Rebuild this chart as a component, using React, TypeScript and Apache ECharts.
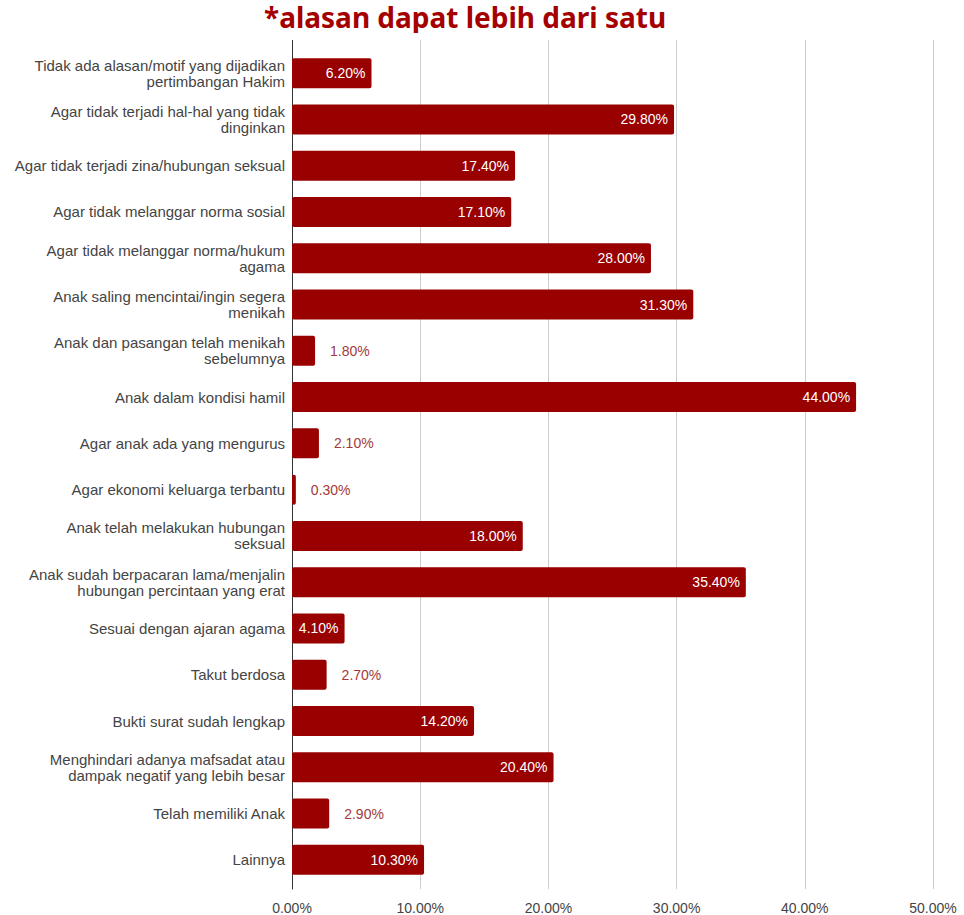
import React, { useEffect, useRef } from "react";
import * as echarts from "echarts";

const categories: string[] = [
  "Tidak ada alasan/motif yang dijadikan\npertimbangan Hakim",
  "Agar tidak terjadi hal-hal yang tidak\ndinginkan",
  "Agar tidak terjadi zina/hubungan seksual",
  "Agar tidak melanggar norma sosial",
  "Agar tidak melanggar norma/hukum\nagama",
  "Anak saling mencintai/ingin segera\nmenikah",
  "Anak dan pasangan telah menikah\nsebelumnya",
  "Anak dalam kondisi hamil",
  "Agar anak ada yang mengurus",
  "Agar ekonomi keluarga terbantu",
  "Anak telah melakukan hubungan\nseksual",
  "Anak sudah berpacaran lama/menjalin\nhubungan percintaan yang erat",
  "Sesuai dengan ajaran agama",
  "Takut berdosa",
  "Bukti surat sudah lengkap",
  "Menghindari adanya mafsadat atau\ndampak negatif yang lebih besar",
  "Telah memiliki Anak",
  "Lainnya",
];

const values: number[] = [
  6.2, 29.8, 17.4, 17.1, 28.0, 31.3, 1.8, 44.0, 2.1, 0.3, 18.0, 35.4, 4.1, 2.7, 14.2, 20.4, 2.9, 10.3,
];

const titleText = "*alasan dapat lebih dari satu";

const BAR = "#990000";
const FONT = "'Liberation Sans', Arial, sans-serif";

export default function App() {
  const ref = useRef<HTMLDivElement>(null);
  useEffect(() => {
    if (!ref.current) return;
    const chart = echarts.init(ref.current, null, { renderer: "svg" });
    const data = values.map((v) => {
      const inside = v >= 4;
      return {
        value: v,
        label: inside
          ? { position: "insideRight", distance: 6, color: "#ffffff" }
          : { position: "right", distance: 15, color: "#a33a3a" },
      };
    });
    chart.setOption({
      animation: false,
      backgroundColor: "#ffffff",
      graphic: [
        {
          type: "text",
          left: 264,
          top: 3,
          z: 1,
          style: {
            text: titleText,
            fontSize: 28,
            fontWeight: "bold",
            fontFamily: "'Noto Sans', sans-serif",
            fill: "#a50000",
          },
        },
        {
          type: "rect",
          shape: { x: 0, y: 33, width: 964, height: 7 },
          z: 2,
          style: { fill: "#ffffff" },
        },
      ],
      grid: [
        { left: 292, right: 31, top: 50, bottom: 32, containLabel: false },
        { left: 292, right: 31, top: 40, bottom: 26, containLabel: false },
      ],
      xAxis: [
        {
          gridIndex: 0,
          type: "value",
          min: 0,
          max: 50,
          interval: 10,
          show: false,
        },
        {
          gridIndex: 1,
          type: "value",
          min: 0,
          max: 50,
          interval: 10,
          axisLine: { show: false },
          axisTick: { show: false },
          splitLine: { show: true, lineStyle: { color: "#cccccc", width: 1 } },
          axisLabel: {
            margin: 12,
            color: "#444444",
            fontSize: 14,
            fontFamily: FONT,
            formatter: (v: number) => v.toFixed(2) + "%",
          },
        },
      ],
      yAxis: [
        {
          gridIndex: 0,
          type: "category",
          data: categories,
          inverse: true,
          axisLine: { show: false },
          axisTick: { show: false },
          axisLabel: {
            margin: 7,
            color: "#444444",
            fontSize: 15,
            lineHeight: 16,
            fontFamily: FONT,
            align: "right",
          },
        },
        {
          gridIndex: 1,
          type: "value",
          min: 0,
          max: 1,
          axisLine: { show: true, lineStyle: { color: "#333333", width: 1 } },
          axisTick: { show: false },
          axisLabel: { show: false },
          splitLine: { show: false },
        },
      ],
      series: [
        {
          type: "bar",
          xAxisIndex: 0,
          yAxisIndex: 0,
          data,
          barWidth: 30,
          z: 3,
          itemStyle: { color: BAR, borderRadius: 2 },
          label: {
            show: true,
            fontSize: 14,
            fontFamily: FONT,
            formatter: (p: any) => p.value.toFixed(2) + "%",
          },
        },
      ],
    });
    return () => chart.dispose();
  }, []);
  return (
    <div style={{ position: "fixed", left: 0, top: 0, width: 964, height: 915, background: "#fff" }}>
      <div ref={ref} style={{ width: 964, height: 915 }} />
    </div>
  );
}
